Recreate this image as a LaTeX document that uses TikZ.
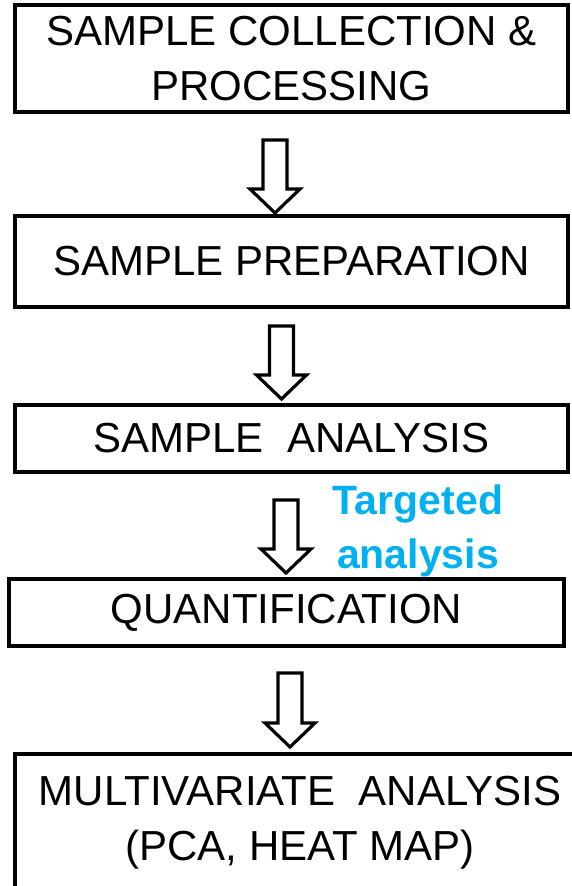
\documentclass[tikz,border=0pt]{standalone}
\usepackage{fontspec}
\setmainfont{Liberation Sans}
\usetikzlibrary{calc}
\definecolor{targetblue}{HTML}{00B0F0}

% hollow block arrow from a top point down to a tip point
\newcommand{\flowarrow}[2]{%
  \draw[blockarrow] let \p1=(#1), \p2=(#2) in
    (\x1-12pt,\y1) -- (\x1+12pt,\y1) -- (\x1+12pt,\y2+24pt) -- (\x1+25pt,\y2+24pt)
    -- (\x2,\y2) -- (\x1-25pt,\y2+24pt) -- (\x1-12pt,\y2+24pt) -- cycle;}

\begin{document}
\begin{tikzpicture}[x=1pt,y=1pt]
  \tikzset{box/.style={draw, line width=4pt, inner sep=0pt, align=center, font=\fontsize{42}{55}\selectfont},
    blockarrow/.style={draw, fill=white, line width=3.2pt, line join=miter}}
  \useasboundingbox (0,0) rectangle (571,886);
  \node[box, minimum width=553pt, minimum height=107pt] (collect) at (291.5,827.5) {SAMPLE COLLECTION \&\\PROCESSING};
  \node[box, minimum width=553pt, minimum height=91pt] (prep) at (291.5,624.5) {SAMPLE PREPARATION};
  \node[box, minimum width=553pt, minimum height=67pt] (analysis) at (291.5,447.5) {SAMPLE\ \ ANALYSIS};
  \node[box, minimum width=555pt, minimum height=67pt] (quant) at (286.5,273.5) {QUANTIFICATION};
  \node[box, minimum width=570pt, minimum height=138pt] (multi) at (300,63) {MULTIVARIATE\ \ ANALYSIS\\(PCA, HEAT MAP)};
  \node[font=\bfseries\fontsize{41}{54}\selectfont, text=targetblue, align=center, inner sep=0pt] (target) at (418,355) {Targeted\\analysis};
  % arrow ends
  \coordinate (a1top) at (275,746);
  \coordinate (a1tip) at (275,673);
  \coordinate (a2top) at (281.5,560);
  \coordinate (a2tip) at (281.5,487);
  \coordinate (a3top) at (286,386);
  \coordinate (a3tip) at (286,313);
  \coordinate (a4top) at (290,213);
  \coordinate (a4tip) at (290,139);
  \flowarrow{a1top}{a1tip}
  \flowarrow{a2top}{a2tip}
  \flowarrow{a3top}{a3tip}
  \flowarrow{a4top}{a4tip}
\end{tikzpicture}
\end{document}
